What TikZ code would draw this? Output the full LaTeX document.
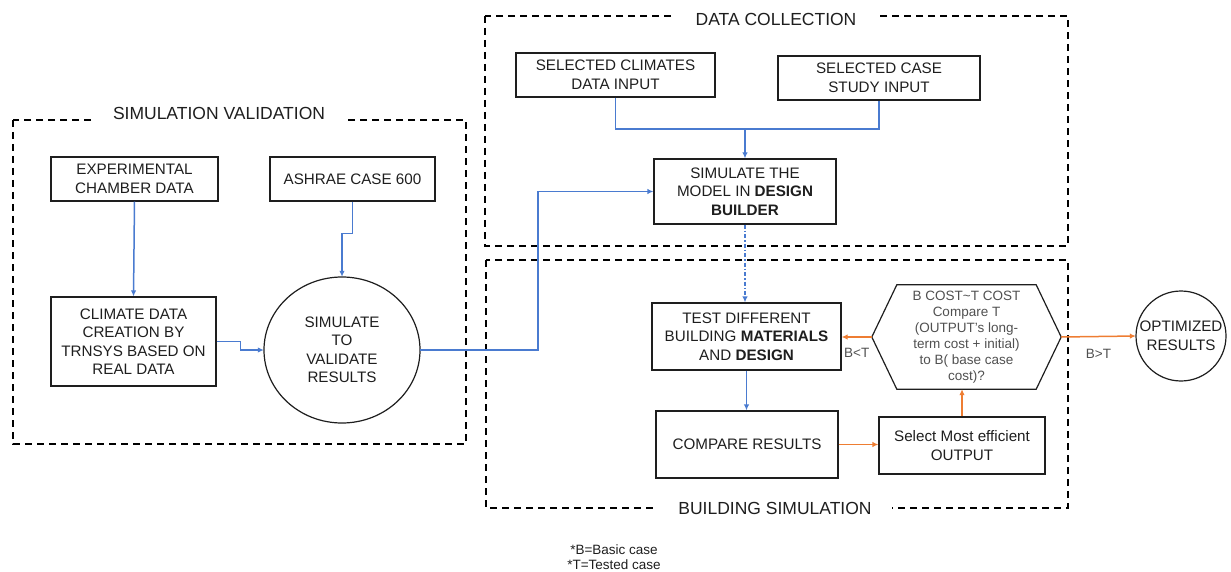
\documentclass[tikz,border=0pt]{standalone}
\usepackage{fontspec}
\setmainfont{Liberation Sans}
\usetikzlibrary{arrows.meta,calc}
\definecolor{ink}{HTML}{1E1E1E}
\definecolor{softink}{HTML}{505050}
\definecolor{flowblue}{HTML}{4A7BD0}
\definecolor{floworange}{HTML}{EE7D32}
\begin{document}
\begin{tikzpicture}[x=1pt,y=-1pt,
  box/.style={draw=ink,line width=1.2pt,text=ink,align=center,inner sep=0pt,
    font=\fontsize{15.2}{18.5}\selectfont},
  roundlabel/.style={text=ink,align=center,inner sep=0pt,
    font=\fontsize{15.2}{18.5}\selectfont},
  group/.style={draw=black,line width=1.1pt,dash pattern=on 7pt off 5pt},
  grouptitle/.style={fill=white,text=ink,inner xsep=20pt,inner ysep=2pt,
    font=\fontsize{17.5}{20}\selectfont},
  blueflow/.style={draw=flowblue,line width=1.5pt},
  bluearrow/.style={blueflow,-{Latex[length=6pt,width=5.5pt]}},
  orangearrow/.style={draw=floworange,line width=1.5pt,-{Latex[length=6pt,width=5.5pt]}},
  edgelabel/.style={text=softink,font=\fontsize{13.5}{15}\selectfont},
]
\useasboundingbox (0,0) rectangle (1231,572);

% group frames
\draw[group] (13,120) rectangle (466,444);
\draw[group] (485,16) rectangle (1068,246);
\draw[group] (486,260) rectangle (1068,508);
\node[grouptitle] (tval) at (219,113) {SIMULATION VALIDATION};
\node[grouptitle] (tcol) at (776,19) {DATA COLLECTION};
\node[grouptitle] (tsim) at (775,508) {BUILDING SIMULATION};

% simulation validation
\node[box,minimum width=167pt,minimum height=44pt] (exp) at (134.5,179)
  {EXPERIMENTAL\\CHAMBER DATA};
\node[box,minimum width=165pt,minimum height=44pt] (ashrae) at (352.5,179)
  {ASHRAE CASE 600};
\node[box,minimum width=165pt,minimum height=89pt] (climate) at (133.5,341.5)
  {CLIMATE DATA\\CREATION BY\\TRNSYS BASED ON\\REAL DATA};
\node[roundlabel,minimum width=156pt,minimum height=146pt] (validate) at (342,350)
  {SIMULATE\\TO\\VALIDATE\\RESULTS};
\draw[ink,line width=1.2pt] (validate.center) ellipse (78 and 73);

% data collection
\node[box,minimum width=199pt,minimum height=44pt] (climates) at (615.5,75)
  {SELECTED CLIMATES\\DATA INPUT};
\node[box,minimum width=202pt,minimum height=44pt] (casein) at (879,78)
  {SELECTED CASE\\STUDY INPUT};
\node[box,minimum width=182pt,minimum height=65pt] (model) at (745,191.5)
  {SIMULATE THE\\MODEL IN \textbf{DESIGN}\\\textbf{BUILDER}};

% building simulation
\node[box,minimum width=189pt,minimum height=67pt] (test) at (746.5,336.5)
  {TEST DIFFERENT\\BUILDING \textbf{MATERIALS}\\AND \textbf{DESIGN}};
\node[box,minimum width=182pt,minimum height=67pt] (compare) at (747,444.5)
  {COMPARE RESULTS};
\node[box,minimum width=166pt,minimum height=57pt] (select) at (962,445.5)
  {Select Most efficient\\OUTPUT};
\node[align=center,inner sep=0pt,minimum width=189pt,minimum height=104pt,
  text=softink,font=\fontsize{13.5}{16}\selectfont] (decide) at (966.5,337)
  {B COST\textasciitilde T COST\\Compare T\\(OUTPUT's long-\\term cost + initial)\\to B( base case\\cost)?};
\draw[ink,line width=1.2pt,line join=miter]
  (decide.west) -- ($(decide.north west)+(25,0)$) -- ($(decide.north east)+(-25,0)$)
  -- (decide.east) -- ($(decide.south east)+(-25,0)$) -- ($(decide.south west)+(25,0)$)
  -- cycle;
\node[roundlabel,minimum width=90pt,minimum height=90pt] (optimal) at (1181,336)
  {OPTIMIZED\\RESULTS};
\draw[ink,line width=1.2pt] (optimal.center) circle (45);

% footnote
\node[text=ink,align=center,font=\fontsize{13.5}{15}\selectfont] (legend) at (614,557)
  {*B=Basic case\\*T=Tested case};

% blue flow
\draw[bluearrow] (exp.south) -- (climate.north);
\draw[bluearrow] (ashrae.south) -- ++(0,32) -| (validate.north);
\draw[bluearrow] (climate.east) -- ++(24,0) |- (validate.west);
\draw[bluearrow] (validate.east) -- ++(118,0) |- (model.west);
\coordinate (merge) at (model.north |- 0,129);
\draw[blueflow] (climates.south) |- (merge);
\draw[blueflow] (casein.south) |- (merge);
\draw[bluearrow] (merge) -- (model.north);
\draw[bluearrow,dash pattern=on 4pt off 2pt on 1.5pt off 2pt] (model.south) -- (model.south |- test.north);
\draw[bluearrow] (test.south) -- (test.south |- compare.north);

% orange flow
\draw[orangearrow] (compare.east) -- (compare.east -| select.west);
\draw[orangearrow] (select.north) -- (select.north |- decide.south);
\draw[orangearrow] (decide.west) -- (decide.west -| test.east)
  node[edgelabel,pos=0.5,below=7pt] (lt) {B<T};
\draw[orangearrow] (decide.east) -- (optimal.west)
  node[edgelabel,pos=0.5,below=9pt] (gt) {B>T};
\end{tikzpicture}
\end{document}
